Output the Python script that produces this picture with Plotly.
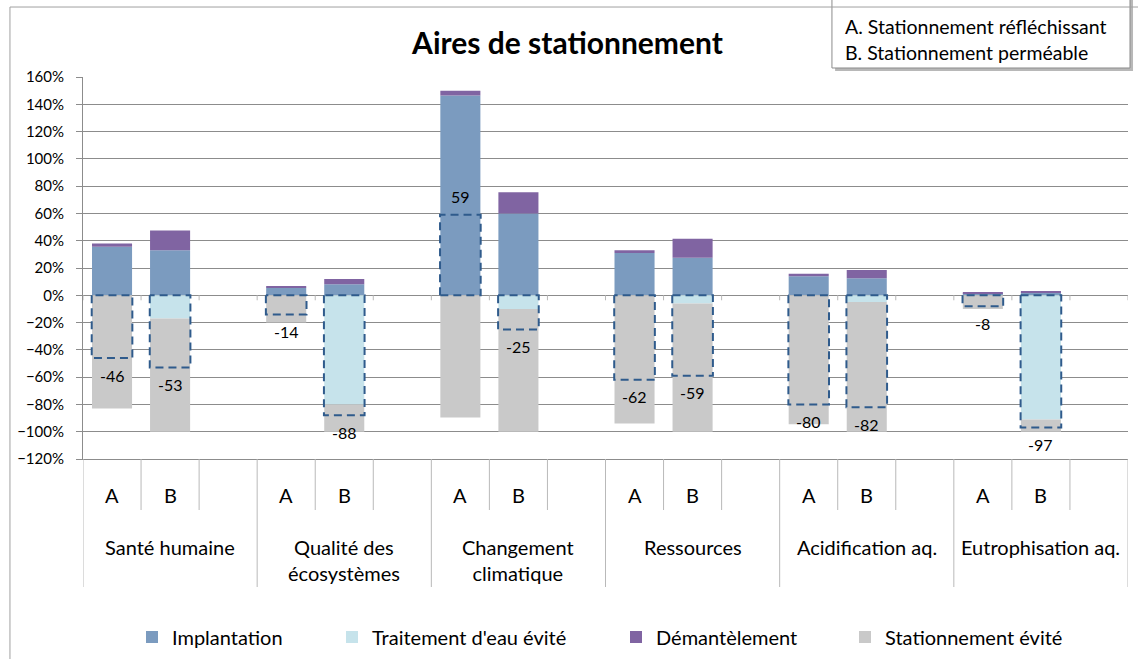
import plotly.graph_objects as go

# impact categories (groups) and the two parking variants
groups = ["Santé humaine", "Qualité des<br>écosystèmes", "Changement<br>climatique",
          "Ressources", "Acidification aq.", "Eutrophisation aq."]
variants = ["A", "B"]

# one value per bar, in order: group0-A, group0-B, group1-A, ...  (percent)
implantation = [35.5, 33, 5.5, 8, 146.5, 60, 31, 27.5, 14, 12.5, 1.5, 2]
traitement = [0, -17, 0, -80, 0, -10, 0, -6, 0, -5, 0, -91]
demantelement = [2.5, 14.5, 1, 4, 3.5, 15.5, 2, 14, 1.7, 6, 0.8, 1]
stationnement = [-83, -83, -20, -20, -89.5, -90, -94, -94, -94.5, -95, -10, -9]
totals = [-46, -53, -14, -88, 59, -25, -62, -59, -80, -82, -8, -97]

box_lines = ["A. Stationnement réfléchissant", "B. Stationnement perméable"]

FONT = "Lato, 'Open Sans', sans-serif"
GRID = "#8c8c8c"
SEP = "#b9b9b9"
PLOT_L, PLOT_W, PLOT_H = 83, 1045, 382
Y_MIN, Y_MAX = -120, 160

slots_per_group = 3
n_slots = len(groups) * slots_per_group
xpos = [g * slots_per_group + v for g in range(len(groups)) for v in range(len(variants))]

fig = go.Figure()
series = [
    ("Implantation", implantation, "#7b9bbf", 172),
    ("Traitement d'eau évité", traitement, "#c6e3eb", 372),
    ("Démantèlement", demantelement, "#8064a2", 656),
    ("Stationnement évité", stationnement, "#c9c9c9", 885),
]
legend_layouts = {}
for i, (name, vals, color, text_px) in enumerate(series):
    key = "legend" if i == 0 else f"legend{i + 1}"
    fig.add_trace(go.Bar(x=xpos, y=vals, name=name, width=0.69, legend=key,
                         marker=dict(color=color, line=dict(width=0))))
    legend_layouts[key] = dict(orientation="h", x=(text_px - 40 - PLOT_L) / PLOT_W,
                               xanchor="left", y=-178 / PLOT_H, yanchor="middle",
                               bgcolor="rgba(0,0,0,0)", borderwidth=0,
                               font=dict(family=FONT, size=20, color="black"))

# dashed outline showing the net total of each bar
half = 0.35
bx, by = [], []
for x, t in zip(xpos, totals):
    bx += [x - half, x - half, x + half, x + half, x - half, None]
    by += [0, t, t, 0, 0, None]
fig.add_trace(go.Scatter(x=bx, y=by, mode="lines", showlegend=False, hoverinfo="skip",
                         line=dict(color="#2f5b8c", width=2, dash="8px,5px")))

annotations = []
for x, t in zip(xpos, totals):
    annotations.append(dict(x=x, y=t, xref="x", yref="y", text=str(t), showarrow=False,
                            yanchor="middle", yshift=18 if t > 0 else -17,
                            font=dict(family=FONT, size=16, color="black")))

# category axis furniture (slot separators, labels, small ticks on the 0 % line)
shapes = []
tick_depth = 5 * (Y_MAX - Y_MIN) / PLOT_H
for b in range(n_slots + 1):
    bound = b - 0.5
    y_end = -128 / PLOT_H if b % slots_per_group == 0 else -51 / PLOT_H
    shapes.append(dict(type="line", xref="x", yref="paper", x0=bound, x1=bound,
                       y0=0, y1=y_end, line=dict(color=SEP, width=1)))
    shapes.append(dict(type="line", xref="x", yref="y", x0=bound, x1=bound,
                       y0=0, y1=-tick_depth, line=dict(color=SEP, width=1)))
for x, lab in zip(xpos, variants * len(groups)):
    annotations.append(dict(x=x, y=-36 / PLOT_H, xref="x", yref="paper", text=lab,
                            showarrow=False, yanchor="middle",
                            font=dict(family=FONT, size=20, color="black")))
for g, name in enumerate(groups):
    annotations.append(dict(x=g * slots_per_group + 1, y=-74 / PLOT_H, xref="x", yref="paper",
                            text=name, showarrow=False, yanchor="top",
                            font=dict(family=FONT, size=20, color="black")))

# text box with the variant key
shapes.append(dict(type="rect", xref="paper", yref="paper", x0=0.7197, x1=1.0048,
                   y0=1.0157, y1=1.22, line=dict(width=0), fillcolor="#b8b8b8", layer="above"))
shapes.append(dict(type="rect", xref="paper", yref="paper", x0=0.7167, x1=1.0019,
                   y0=1.0236, y1=1.22, line=dict(color="#8c8c8c", width=1),
                   fillcolor="white", layer="above"))
for i, txt in enumerate(box_lines):
    annotations.append(dict(x=(843 - PLOT_L) / PLOT_W, y=1 + (50 - 26 * i) / PLOT_H,
                            xref="paper", yref="paper", text=txt, showarrow=False,
                            xanchor="left", yanchor="middle",
                            font=dict(family=FONT, size=19.5, color="black")))

# chart area border
shapes.append(dict(type="line", xref="paper", yref="paper", x0=-0.0699, x1=-0.0699,
                   y0=-0.6, y1=1.1832, line=dict(color="#a0a0a0", width=1)))
shapes.append(dict(type="line", xref="paper", yref="paper", x0=-0.0699, x1=1.02,
                   y0=1.1832, y1=1.1832, line=dict(color="#a0a0a0", width=1)))

fig.update_layout(
    width=1138, height=659,
    margin=dict(l=PLOT_L, r=10, t=77, b=200, autoexpand=False),
    paper_bgcolor="white", plot_bgcolor="white",
    barmode="relative",
    font=dict(family=FONT, size=15, color="black"),
    title=dict(text="<b>Aires de stationnement</b>", x=567.5 / 1138, xref="container",
               y=1 - 43 / 659, yanchor="middle", xanchor="center",
               font=dict(family=FONT, size=30, color="black")),
    showlegend=True,
    shapes=shapes,
    annotations=annotations,
    **legend_layouts,
)
fig.update_xaxes(range=[-0.5, n_slots - 0.5], showticklabels=False, showgrid=False,
                 zeroline=False, showline=True, linecolor=GRID, ticks="")
fig.update_yaxes(range=[Y_MIN, Y_MAX], dtick=20, ticksuffix="%", showgrid=True, gridcolor=GRID,
                 zeroline=True, zerolinecolor=GRID, zerolinewidth=1, showline=True,
                 linecolor=GRID, ticks="outside", ticklen=6, tickcolor=GRID,
                 ticklabelstandoff=9, tickfont=dict(family=FONT, size=15, color="black"))

fig.write_html("out.html", config={"displayModeBar": False},
               post_script="document.body.style.margin='0px';")
